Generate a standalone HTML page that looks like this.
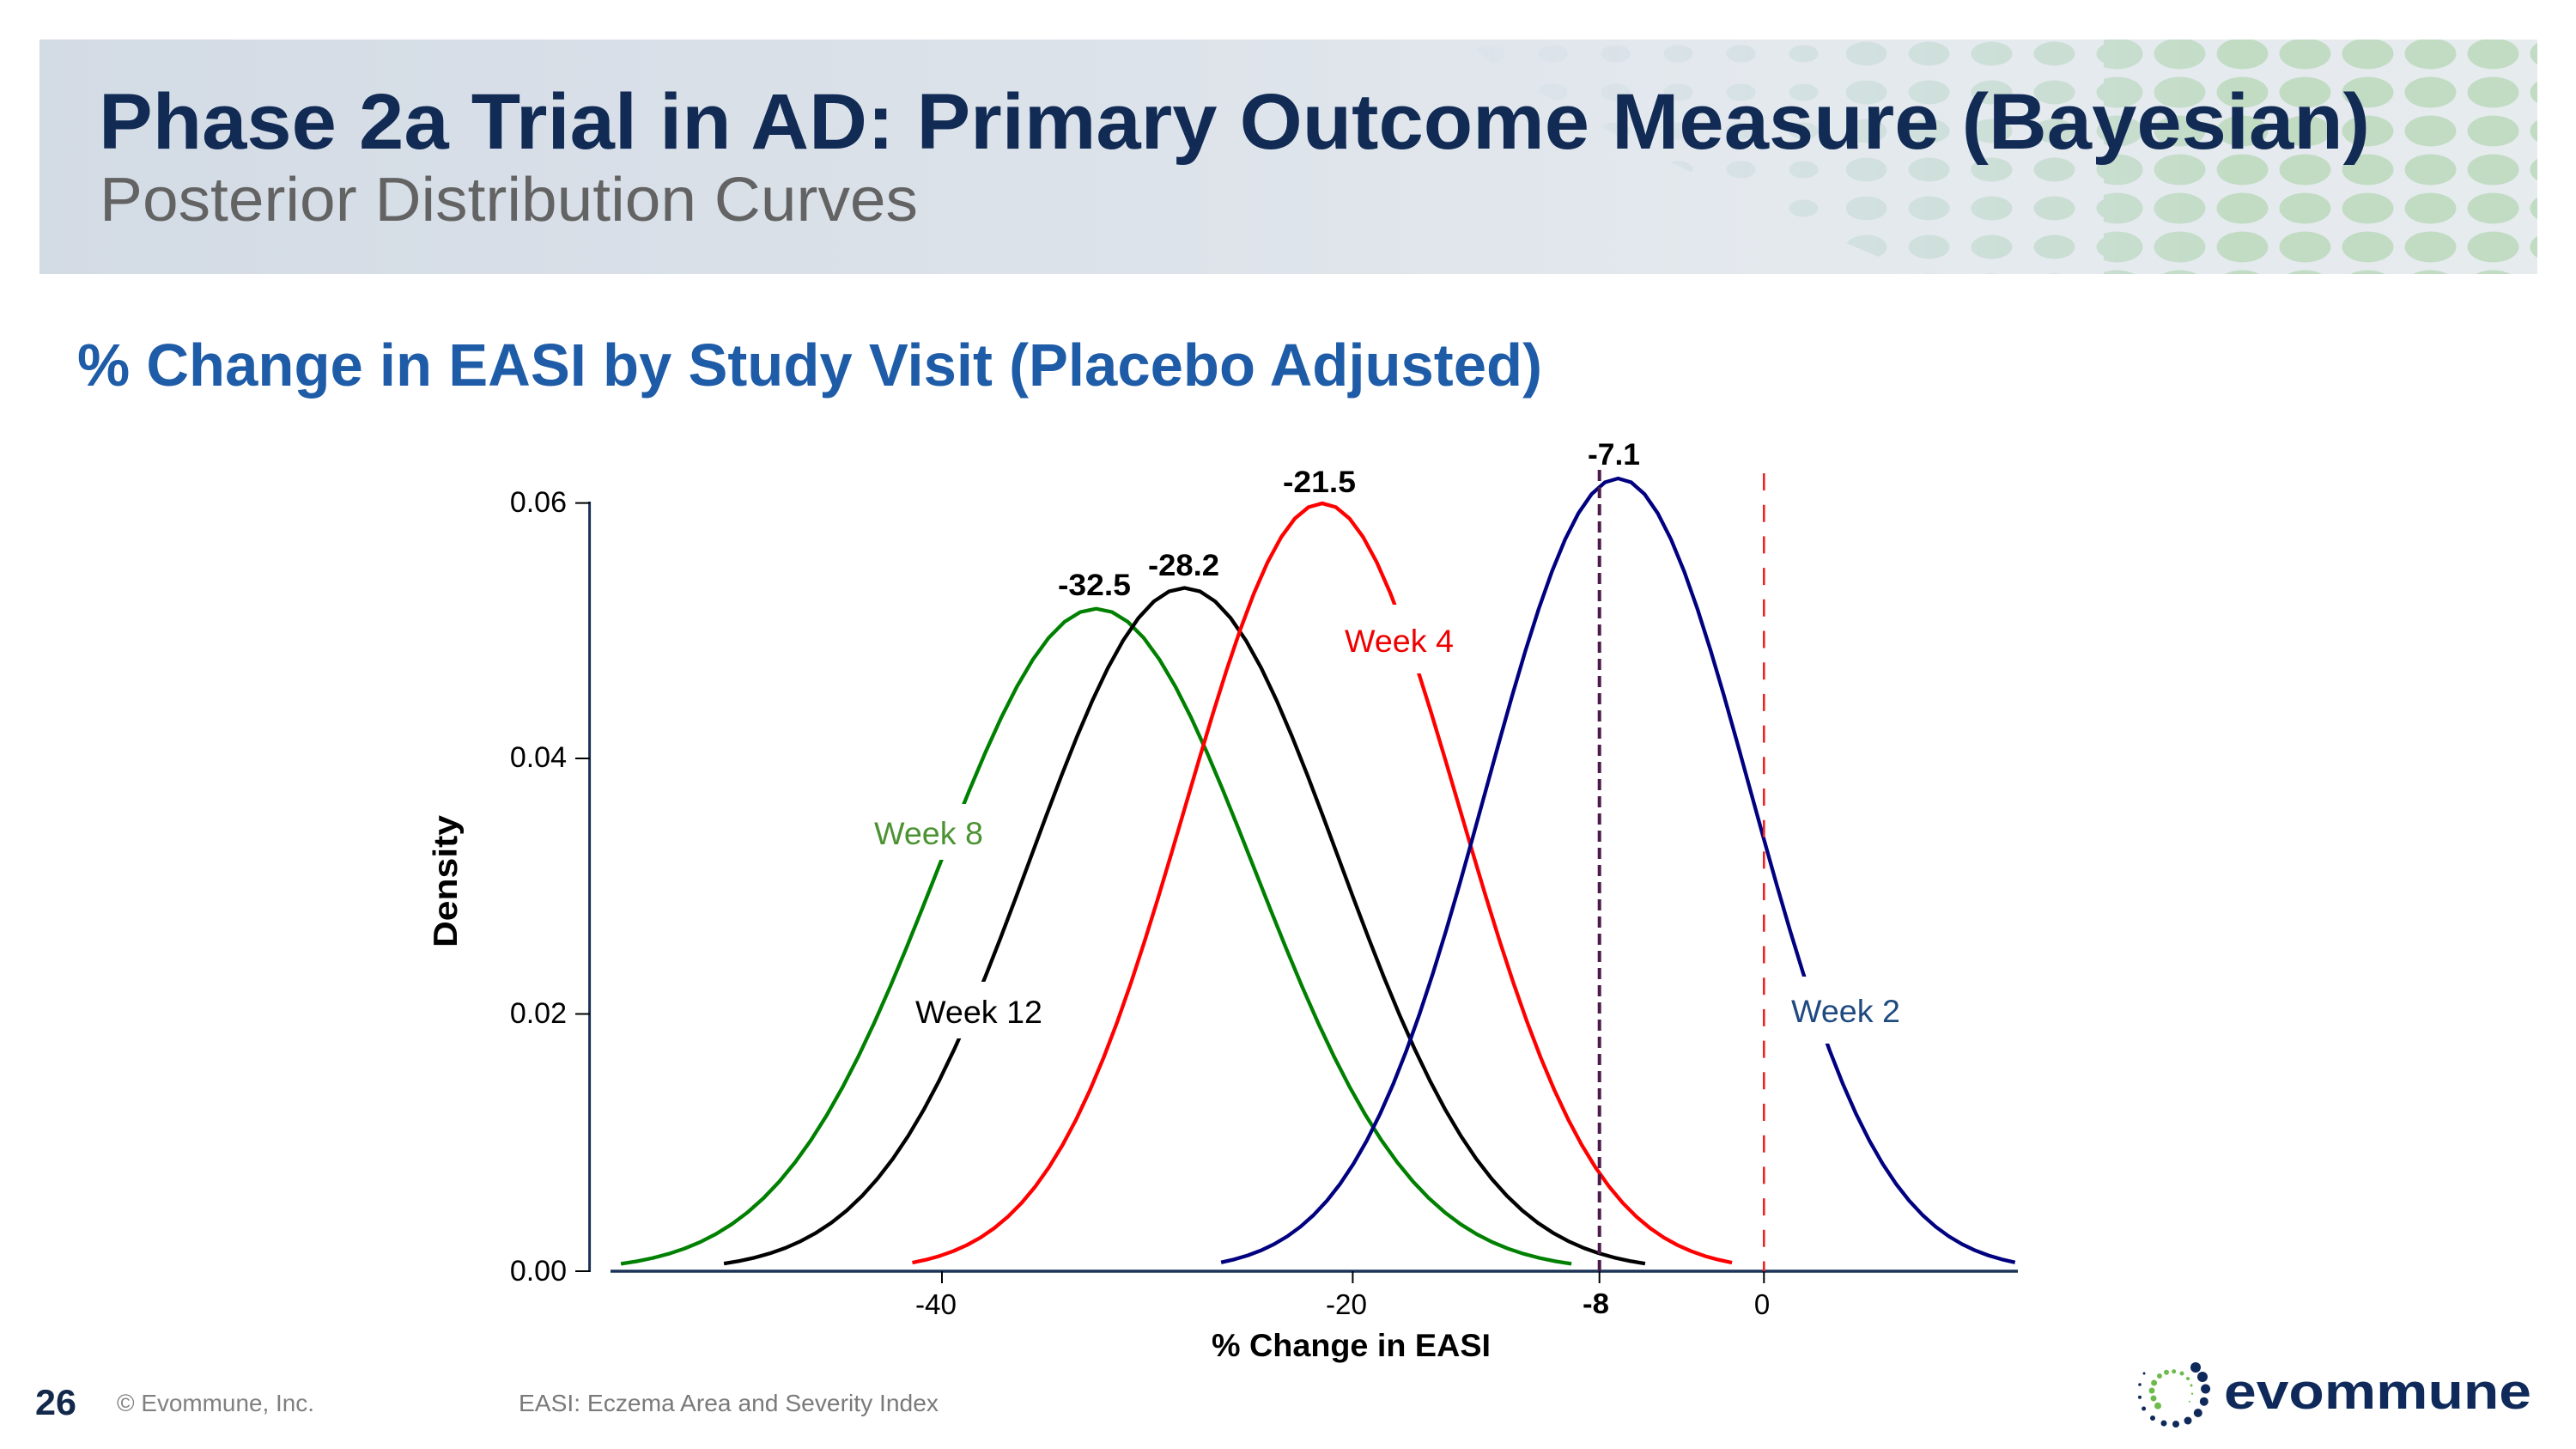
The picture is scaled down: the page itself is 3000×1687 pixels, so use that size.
<!DOCTYPE html>
<html>
<head>
<meta charset="utf-8">
<style>
  html, body { margin:0; padding:0; background:#ffffff; }
  svg { display:block; }
  text { font-family: "Liberation Sans", Arial, sans-serif; }
</style>
</head>
<body>
<svg width="3000" height="1687" viewBox="0 0 3000 1687" xmlns="http://www.w3.org/2000/svg">
  <defs>
    <linearGradient id="bannerBg" x1="0" y1="0" x2="1" y2="0">
      <stop offset="0" stop-color="#d3dbe5"/>
      <stop offset="0.45" stop-color="#dde3ea"/>
      <stop offset="0.7" stop-color="#e4e9ee"/>
      <stop offset="1" stop-color="#e6ebee"/>
    </linearGradient>
    <linearGradient id="dotColor" gradientUnits="userSpaceOnUse" x1="1700" y1="0" x2="2600" y2="0">
      <stop offset="0" stop-color="#c9d8e3"/>
      <stop offset="0.5" stop-color="#c6dbd8"/>
      <stop offset="1" stop-color="#c2dcc4"/>
    </linearGradient>
    <linearGradient id="fadeGrad" gradientUnits="userSpaceOnUse" x1="1700" y1="0" x2="2600" y2="0">
      <stop offset="0" stop-color="#fff" stop-opacity="0.12"/>
      <stop offset="0.5" stop-color="#fff" stop-opacity="0.6"/>
      <stop offset="1" stop-color="#fff" stop-opacity="1"/>
    </linearGradient>
    <pattern id="dotPatBig" patternUnits="userSpaceOnUse" x="20" y="40" width="73" height="45">
      <ellipse cx="36.5" cy="22.5" rx="30" ry="18" fill="#fff"/>
    </pattern>
    <pattern id="dotPatMed" patternUnits="userSpaceOnUse" x="20" y="40" width="73" height="45">
      <ellipse cx="36.5" cy="22.5" rx="24" ry="14" fill="#fff"/>
    </pattern>
    <pattern id="dotPatSm" patternUnits="userSpaceOnUse" x="20" y="40" width="73" height="45">
      <ellipse cx="36.5" cy="22.5" rx="17" ry="10" fill="#fff"/>
    </pattern>
    <mask id="dotMask" maskUnits="userSpaceOnUse" x="0" y="0" width="3000" height="400">
      <rect x="1650" y="46" width="500" height="273" fill="url(#dotPatSm)"/>
      <rect x="2150" y="46" width="300" height="273" fill="url(#dotPatMed)"/>
      <rect x="2450" y="46" width="505" height="273" fill="url(#dotPatBig)"/>
    </mask>
    <mask id="fadeMask" maskUnits="userSpaceOnUse" x="0" y="0" width="3000" height="400">
      <rect x="1650" y="46" width="1305" height="273" fill="url(#fadeGrad)"/>
    </mask>
    <clipPath id="dotRegion">
      <polygon points="1700,46 2955,46 2955,319 2235,319 2100,262 1910,172 1770,95"/>
    </clipPath>
  </defs>

  <!-- Header banner -->
  <rect x="46" y="46" width="2909" height="273" fill="url(#bannerBg)"/>
  <g clip-path="url(#dotRegion)">
    <g mask="url(#fadeMask)">
      <rect x="1650" y="46" width="1305" height="273" fill="url(#dotColor)" mask="url(#dotMask)"/>
    </g>
  </g>

  <text x="115" y="173" font-size="92" font-weight="bold" fill="#112b55" textLength="2645" lengthAdjust="spacingAndGlyphs">Phase 2a Trial in AD: Primary Outcome Measure (Bayesian)</text>
  <text x="116" y="257" font-size="72" fill="#636363" textLength="953" lengthAdjust="spacingAndGlyphs">Posterior Distribution Curves</text>

  <!-- Section heading -->
  <text x="90" y="449" font-size="70" font-weight="bold" fill="#1f5ca8" textLength="1706" lengthAdjust="spacingAndGlyphs">% Change in EASI by Study Visit (Placebo Adjusted)</text>

  <!-- Axes -->
  <line x1="686.6" y1="584" x2="686.6" y2="1481" stroke="#1b2f55" stroke-width="3"/>
  <line x1="711" y1="1480" x2="2350" y2="1480" stroke="#1b3358" stroke-width="3.5"/>
  <g stroke="#000" stroke-width="2">
    <line x1="670" y1="585.6" x2="687" y2="585.6"/>
    <line x1="670" y1="883" x2="687" y2="883"/>
    <line x1="670" y1="1180.5" x2="687" y2="1180.5"/>
    <line x1="670" y1="1480" x2="687" y2="1480"/>
    <line x1="1097" y1="1480" x2="1097" y2="1494"/>
    <line x1="1575.4" y1="1480" x2="1575.4" y2="1494"/>
    <line x1="1862.7" y1="1480" x2="1862.7" y2="1494"/>
    <line x1="2054.3" y1="1480" x2="2054.3" y2="1494"/>
  </g>

  <!-- Y tick labels -->
  <g font-size="34" fill="#000" text-anchor="end">
    <text x="660" y="596">0.06</text>
    <text x="660" y="893">0.04</text>
    <text x="660" y="1191">0.02</text>
    <text x="660" y="1491">0.00</text>
  </g>

  <!-- X tick labels -->
  <text x="1066" y="1530" font-size="33" fill="#000" textLength="48" lengthAdjust="spacingAndGlyphs">-40</text>
  <text x="1544" y="1530" font-size="33" fill="#000" textLength="48" lengthAdjust="spacingAndGlyphs">-20</text>
  <text x="1843" y="1529" font-size="33" font-weight="bold" fill="#000" textLength="31" lengthAdjust="spacingAndGlyphs">-8</text>
  <text x="2052" y="1530" font-size="33" fill="#000" text-anchor="middle">0</text>

  <!-- Axis titles -->
  <text x="1411" y="1579" font-size="37" font-weight="bold" fill="#000" textLength="325" lengthAdjust="spacingAndGlyphs">% Change in EASI</text>
  <text transform="translate(532,1026) rotate(-90)" x="0" y="0" font-size="39" font-weight="bold" fill="#000" text-anchor="middle" textLength="154" lengthAdjust="spacingAndGlyphs">Density</text>

  <!-- Curves (standard Gaussian shape, scaled) -->
  <g fill="none" stroke-width="4.3" stroke-linejoin="round">
    <polyline vector-effect="non-scaling-stroke" stroke="#008000" transform="translate(1276.6,1480) scale(184.5,771.3)"
      points="-3,-0.01111 -2.9,-0.01492 -2.8,-0.01984 -2.7,-0.02612 -2.6,-0.03405 -2.5,-0.04394 -2.4,-0.05613 -2.3,-0.071 -2.2,-0.08892 -2.1,-0.11025 -2,-0.13534 -1.9,-0.16447 -1.8,-0.1979 -1.7,-0.23575 -1.6,-0.27804 -1.5,-0.32465 -1.4,-0.37531 -1.3,-0.42956 -1.2,-0.48675 -1.1,-0.54607 -1,-0.60653 -0.9,-0.66698 -0.8,-0.72615 -0.7,-0.7827 -0.6,-0.83527 -0.5,-0.8825 -0.4,-0.92312 -0.3,-0.956 -0.2,-0.9802 -0.1,-0.99501 0,-1 0.1,-0.99501 0.2,-0.9802 0.3,-0.956 0.4,-0.92312 0.5,-0.8825 0.6,-0.83527 0.7,-0.7827 0.8,-0.72615 0.9,-0.66698 1,-0.60653 1.1,-0.54607 1.2,-0.48675 1.3,-0.42956 1.4,-0.37531 1.5,-0.32465 1.6,-0.27804 1.7,-0.23575 1.8,-0.1979 1.9,-0.16447 2,-0.13534 2.1,-0.11025 2.2,-0.08892 2.3,-0.071 2.4,-0.05613 2.5,-0.04394 2.6,-0.03405 2.7,-0.02612 2.8,-0.01984 2.9,-0.01492 3,-0.01111"/>
    <polyline vector-effect="non-scaling-stroke" stroke="#000000" transform="translate(1379.5,1480) scale(178.8,795.5)"
      points="-3,-0.01111 -2.9,-0.01492 -2.8,-0.01984 -2.7,-0.02612 -2.6,-0.03405 -2.5,-0.04394 -2.4,-0.05613 -2.3,-0.071 -2.2,-0.08892 -2.1,-0.11025 -2,-0.13534 -1.9,-0.16447 -1.8,-0.1979 -1.7,-0.23575 -1.6,-0.27804 -1.5,-0.32465 -1.4,-0.37531 -1.3,-0.42956 -1.2,-0.48675 -1.1,-0.54607 -1,-0.60653 -0.9,-0.66698 -0.8,-0.72615 -0.7,-0.7827 -0.6,-0.83527 -0.5,-0.8825 -0.4,-0.92312 -0.3,-0.956 -0.2,-0.9802 -0.1,-0.99501 0,-1 0.1,-0.99501 0.2,-0.9802 0.3,-0.956 0.4,-0.92312 0.5,-0.8825 0.6,-0.83527 0.7,-0.7827 0.8,-0.72615 0.9,-0.66698 1,-0.60653 1.1,-0.54607 1.2,-0.48675 1.3,-0.42956 1.4,-0.37531 1.5,-0.32465 1.6,-0.27804 1.7,-0.23575 1.8,-0.1979 1.9,-0.16447 2,-0.13534 2.1,-0.11025 2.2,-0.08892 2.3,-0.071 2.4,-0.05613 2.5,-0.04394 2.6,-0.03405 2.7,-0.02612 2.8,-0.01984 2.9,-0.01492 3,-0.01111"/>
    <polyline vector-effect="non-scaling-stroke" stroke="#ff0000" transform="translate(1539.8,1480) scale(159.1,894)"
      points="-3,-0.01111 -2.9,-0.01492 -2.8,-0.01984 -2.7,-0.02612 -2.6,-0.03405 -2.5,-0.04394 -2.4,-0.05613 -2.3,-0.071 -2.2,-0.08892 -2.1,-0.11025 -2,-0.13534 -1.9,-0.16447 -1.8,-0.1979 -1.7,-0.23575 -1.6,-0.27804 -1.5,-0.32465 -1.4,-0.37531 -1.3,-0.42956 -1.2,-0.48675 -1.1,-0.54607 -1,-0.60653 -0.9,-0.66698 -0.8,-0.72615 -0.7,-0.7827 -0.6,-0.83527 -0.5,-0.8825 -0.4,-0.92312 -0.3,-0.956 -0.2,-0.9802 -0.1,-0.99501 0,-1 0.1,-0.99501 0.2,-0.9802 0.3,-0.956 0.4,-0.92312 0.5,-0.8825 0.6,-0.83527 0.7,-0.7827 0.8,-0.72615 0.9,-0.66698 1,-0.60653 1.1,-0.54607 1.2,-0.48675 1.3,-0.42956 1.4,-0.37531 1.5,-0.32465 1.6,-0.27804 1.7,-0.23575 1.8,-0.1979 1.9,-0.16447 2,-0.13534 2.1,-0.11025 2.2,-0.08892 2.3,-0.071 2.4,-0.05613 2.5,-0.04394 2.6,-0.03405 2.7,-0.02612 2.8,-0.01984 2.9,-0.01492 3,-0.01111"/>
    <polyline vector-effect="non-scaling-stroke" stroke="#000080" transform="translate(1884.4,1480) scale(154.1,923)"
      points="-3,-0.01111 -2.9,-0.01492 -2.8,-0.01984 -2.7,-0.02612 -2.6,-0.03405 -2.5,-0.04394 -2.4,-0.05613 -2.3,-0.071 -2.2,-0.08892 -2.1,-0.11025 -2,-0.13534 -1.9,-0.16447 -1.8,-0.1979 -1.7,-0.23575 -1.6,-0.27804 -1.5,-0.32465 -1.4,-0.37531 -1.3,-0.42956 -1.2,-0.48675 -1.1,-0.54607 -1,-0.60653 -0.9,-0.66698 -0.8,-0.72615 -0.7,-0.7827 -0.6,-0.83527 -0.5,-0.8825 -0.4,-0.92312 -0.3,-0.956 -0.2,-0.9802 -0.1,-0.99501 0,-1 0.1,-0.99501 0.2,-0.9802 0.3,-0.956 0.4,-0.92312 0.5,-0.8825 0.6,-0.83527 0.7,-0.7827 0.8,-0.72615 0.9,-0.66698 1,-0.60653 1.1,-0.54607 1.2,-0.48675 1.3,-0.42956 1.4,-0.37531 1.5,-0.32465 1.6,-0.27804 1.7,-0.23575 1.8,-0.1979 1.9,-0.16447 2,-0.13534 2.1,-0.11025 2.2,-0.08892 2.3,-0.071 2.4,-0.05613 2.5,-0.04394 2.6,-0.03405 2.7,-0.02612 2.8,-0.01984 2.9,-0.01492 3,-0.01111"/>
  </g>

  <!-- Reference dashed lines -->
  <line x1="1862.7" y1="547" x2="1862.7" y2="1480" stroke="#4d1b4b" stroke-width="4" stroke-dasharray="13 7"/>
  <line x1="2054.3" y1="551" x2="2054.3" y2="1480" stroke="#ee2222" stroke-width="2.6" stroke-dasharray="20 16.7"/>

  <!-- Label gaps -->
  <g fill="#ffffff">
    <rect x="1012" y="936" width="138" height="65"/>
    <rect x="1060" y="1143" width="160" height="66"/>
    <rect x="1560" y="704" width="140" height="80"/>
    <rect x="2082" y="1137" width="138" height="78"/>
  </g>

  <!-- Series labels -->
  <text x="1018" y="983" font-size="37" fill="#4b9332" textLength="127" lengthAdjust="spacingAndGlyphs">Week 8</text>
  <text x="1066" y="1191" font-size="37" fill="#000000" textLength="148" lengthAdjust="spacingAndGlyphs">Week 12</text>
  <text x="1566" y="759" font-size="37" fill="#ee0000" textLength="127" lengthAdjust="spacingAndGlyphs">Week 4</text>
  <text x="2086" y="1190" font-size="37" fill="#1f4a80" textLength="127" lengthAdjust="spacingAndGlyphs">Week 2</text>

  <!-- Peak labels -->
  <g font-size="35" font-weight="bold" fill="#000">
    <text x="1232" y="693" textLength="85" lengthAdjust="spacingAndGlyphs">-32.5</text>
    <text x="1337" y="670" textLength="83" lengthAdjust="spacingAndGlyphs">-28.2</text>
    <text x="1494" y="573" textLength="85" lengthAdjust="spacingAndGlyphs">-21.5</text>
    <text x="1849" y="541" textLength="61" lengthAdjust="spacingAndGlyphs">-7.1</text>
  </g>

  <!-- Footer -->
  <text x="41" y="1647" font-size="42" font-weight="bold" fill="#13294b" textLength="48" lengthAdjust="spacingAndGlyphs">26</text>
  <text x="136" y="1643" font-size="28" fill="#808080" textLength="230" lengthAdjust="spacingAndGlyphs">© Evommune, Inc.</text>
  <text x="604" y="1643" font-size="28" fill="#7a7a7a" textLength="489" lengthAdjust="spacingAndGlyphs">EASI: Eczema Area and Severity Index</text>

  <!-- Logo -->
  <g fill="#0f2a5a">
    <circle cx="2557" cy="1592" r="6"/>
    <circle cx="2565" cy="1603" r="6"/>
    <circle cx="2568.6" cy="1617" r="5.5"/>
    <circle cx="2566.8" cy="1631.7" r="5"/>
    <circle cx="2559.8" cy="1645" r="5"/>
    <circle cx="2548" cy="1654" r="4.5"/>
    <circle cx="2534" cy="1658" r="4"/>
    <circle cx="2520" cy="1657" r="3.5"/>
    <circle cx="2507" cy="1651" r="3"/>
    <circle cx="2496.6" cy="1640" r="2.5"/>
    <circle cx="2492" cy="1626.7" r="2"/>
    <circle cx="2492" cy="1612" r="1.8"/>
    <circle cx="2497" cy="1599" r="1.5"/>
  </g>
  <g fill="#6dbb4b">
    <circle cx="2515" cy="1602" r="3"/>
    <circle cx="2523" cy="1597.7" r="3"/>
    <circle cx="2531.7" cy="1596.7" r="2.5"/>
    <circle cx="2541" cy="1599" r="2.5"/>
    <circle cx="2548" cy="1605" r="2"/>
    <circle cx="2552" cy="1613" r="1.5"/>
    <circle cx="2553" cy="1622.7" r="1.2"/>
    <circle cx="2550" cy="1631.7" r="1"/>
    <circle cx="2508.6" cy="1610" r="3.5"/>
    <circle cx="2506" cy="1619" r="3.5"/>
    <circle cx="2508" cy="1628" r="3.5"/>
    <circle cx="2513" cy="1636.7" r="4"/>
  </g>
  <text x="2590" y="1640" font-size="58" font-weight="bold" fill="#0f2a5a" textLength="358" lengthAdjust="spacingAndGlyphs">evommune</text>
</svg>
</body>
</html>
